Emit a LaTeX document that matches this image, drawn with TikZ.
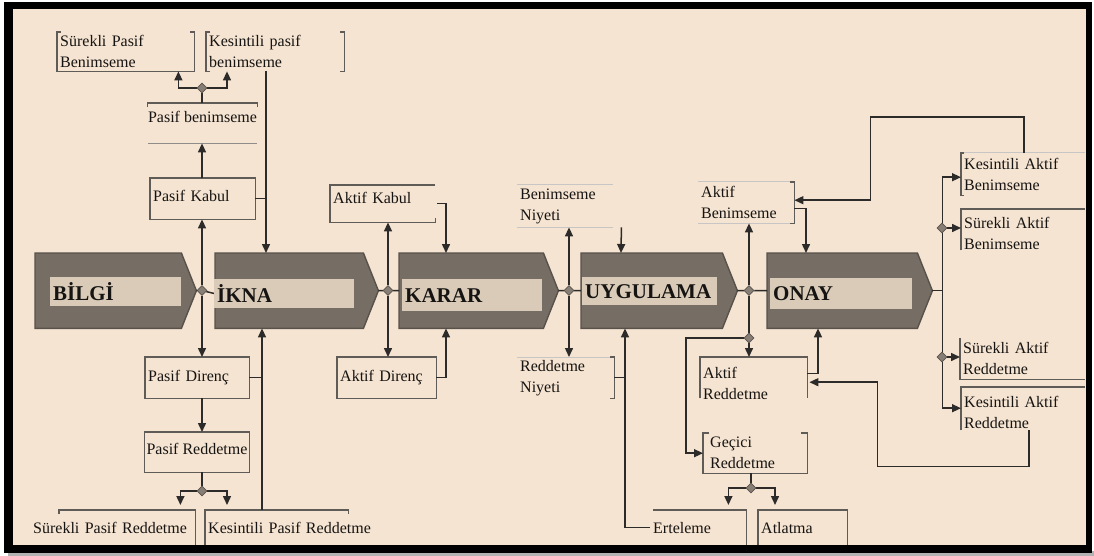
\documentclass[tikz,border=0pt]{standalone}
\usepackage{fontspec}
\setmainfont{Liberation Serif}
\usetikzlibrary{shapes.geometric,arrows.meta,calc}
\pgfdeclarelayer{bg}
\pgfdeclarelayer{mid}
\pgfsetlayers{bg,mid,main}
\definecolor{cream}{RGB}{245,228,210}
\definecolor{chevfill}{RGB}{118,110,101}
\definecolor{chevline}{RGB}{88,82,75}
\definecolor{litefill}{RGB}{217,203,184}
\definecolor{conn}{RGB}{45,43,41}
\definecolor{boxline}{RGB}{95,91,86}
\definecolor{ink}{RGB}{22,20,18}
\definecolor{dia}{RGB}{135,127,118}
\newcommand\keepline[1]{\mbox{#1}}
\tikzset{
  geo/.code n args={4}{\pgfmathsetlengthmacro\bxw{#3-#1}\pgfmathsetlengthmacro\bxh{#4-#2}%
    \edef\bxtmp{\noexpand\tikzset{at={(#1,#2)},anchor=north west,minimum width=\bxw,minimum height=\bxh}}\bxtmp},
  geom/.code n args={4}{\pgfmathsetlengthmacro\bxt{#3-#1-6}\tikzset{geo={#1}{#2}{#3}{#4}}%
    \edef\bxtmp{\noexpand\tikzset{text width=\bxt}}\bxtmp},
  geoc/.code n args={4}{\pgfmathsetlengthmacro\bxw{#3-#1}\pgfmathsetlengthmacro\bxh{#4-#2}\pgfmathsetmacro\bxc{(#1+#3)/2}%
    \edef\bxtmp{\noexpand\tikzset{at={(\bxc,#2)},anchor=north,minimum width=\bxw,minimum height=\bxh}}\bxtmp},
  bx/.style={draw=none, inner xsep=3pt, inner ysep=0pt, align=left, text=ink, font=\fontsize{16}{21}\selectfont},
  bxc/.style={draw=none, inner xsep=0pt, inner ysep=0pt, align=center, text=ink, font=\fontsize{16}{21}\selectfont},
  bline/.style={draw=boxline, line width=1.2pt},
  bfaint/.style={draw=boxline!35, line width=1pt},
  ln/.style={draw=conn, line width=1.5pt},
  arr/.style={ln, -{Triangle[length=9pt,width=8pt]}},
  chev/.style={draw=none, inner sep=0pt},
  chevpath/.style={fill=chevfill, draw=chevline, line width=1.4pt, line join=miter},
  litebox/.style={fill=litefill, inner xsep=3pt, inner ysep=0pt, align=left, text=ink, font=\fontsize{21}{24}\bfseries\selectfont},
  dm/.style={diamond, fill=dia, draw=chevline, line width=0.6pt, inner sep=0pt, minimum width=10pt, minimum height=10pt},
}
\begin{document}
\begin{tikzpicture}[x=1pt,y=-1pt]
\useasboundingbox (0,0) rectangle (1094,556);

% ---- stage chevrons
\node[chev, geo={35}{253}{181}{328}] (bilgi) {};
\node[chev, geo={215}{253}{363}{328}] (ikna) {};
\node[chev, geo={399}{253}{543}{328}] (karar) {};
\node[chev, geo={581}{253}{722}{328}] (uyg) {};
\node[chev, geo={767}{253}{917}{328}] (onay) {};
\foreach \c in {bilgi,ikna,karar,uyg,onay}
  \coordinate (\c tip) at ($(\c.east)+(15,0)$);

\node[litebox, geom={50}{277}{181}{306}] (bilgit) {BİLGİ};
\node[litebox, geom={214}{279}{354}{308}] (iknat) {İKNA};
\node[litebox, geom={402}{279}{542}{311}] (karart) {KARAR};
\node[litebox, geom={582}{277}{717}{305}] (uygt) {UYGULAMA};
\node[litebox, geom={770}{278}{912}{309}] (onayt) {ONAY};

% ---- boxes
\node[bx, geom={57}{32}{194}{71}] (spb) {Sürekli Pasif\\Benimseme};
\node[bx, geom={206}{32}{344}{71}] (kpb) {Kesintili pasif\\benimseme};
\node[bxc, geoc={150}{103}{255}{143}, text depth=12pt] (pben) {Pasif benimseme};
\node[bx, geom={150}{178}{255}{219}, text depth=6pt] (pk) {Pasif Kabul};
\node[bx, geom={145}{357}{249}{398}] (pd) {Pasif Direnç};
\node[bxc, geoc={145}{432}{249}{472}, text depth=7pt] (pr) {Pasif Reddetme};
\node[bx, geom={30}{510}{195}{545}] (spr) {Sürekli Pasif Reddetme};
\node[bx, geom={205}{510}{348}{545}] (kpr) {\keepline{Kesintili Pasif Reddetme}};
\node[bx, geom={330}{185}{435}{222}, text depth=11pt] (ak) {Aktif Kabul};
\node[bx, geom={337}{357}{436}{398}] (ad) {Aktif Direnç};
\node[bx, geom={517}{185}{613}{227}] (bn) {Benimseme\\Niyeti};
\node[bx, geom={517}{357}{614}{398}] (rn) {Reddetme\\Niyeti};
\node[bx, geom={698}{182}{794}{223}] (ab) {Aktif\\Benimseme};
\node[bx, geom={700}{357}{807}{398}, text depth=10pt] (ar) {Aktif\\Reddetme};
\node[bx, geom={703}{433}{807}{473}] (gr) {\hspace*{4pt}Geçici\\\hspace*{4pt}Reddetme};
\node[bx, geom={650}{510}{746}{545}] (er) {Erteleme};
\node[bx, geom={758}{510}{847}{545}] (at) {Atlatma};
\node[bx, geom={961}{153}{1085}{195}] (kab) {Kesintili Aktif\\Benimseme};
\node[bx, geom={961}{209}{1085}{250}, text depth=14pt] (sab) {Sürekli Aktif\\Benimseme};
\node[bx, geom={960}{338}{1085}{379}] (sar) {Sürekli Aktif\\Reddetme};
\node[bx, geom={961}{387}{1085}{430}, text depth=14pt] (kar) {Kesintili Aktif\\Reddetme};

% ---- junction diamonds
\node[dm] (d1) at (202,290.5) {};
\node[dm] (d2) at (388,290.5) {};
\node[dm] (d3) at (569,290.5) {};
\node[dm] (d4) at (749,290.5) {};
\node[dm] (d5) at (749,338) {};
\node[dm] (d6) at (202,88) {};
\node[dm] (d7) at (202,491) {};
\node[dm] (d8) at (751,488) {};
\node[dm] (d9) at (942,228) {};
\node[dm] (d10) at (942,357) {};

\begin{pgfonlayer}{bg}
  \fill[white] (0,0) rectangle (1094,556);
  \fill[black!30] (8,551) rectangle (1094,556);
  \fill[black] (4,2) rectangle (1092,553);
  \fill[cream] (13,9) rectangle (1086,545);
  \foreach \c in {bilgi,ikna,karar,uyg,onay}
    \draw[chevpath] (\c.north west) -- (\c.north east) -- (\c tip) -- (\c.south east) -- (\c.south west) -- cycle;
\end{pgfonlayer}

\begin{pgfonlayer}{mid}
  % box outlines
  \draw[bline] ($(spb.north west)+(4,0)$) -- (spb.north west) -- (spb.south west) -- (spb.south east) -- (spb.north east) -- ++(-4,0);
  \draw[bline] ($(kpb.north west)+(4,0)$) -- (kpb.north west) -- (kpb.south west) -- ++(4,0);
  \draw[bline] ($(kpb.north east)+(-4,0)$) -- (kpb.north east) -- (kpb.south east) -- ++(-4,0);
  \draw[bline] ($(pben.north west)+(0,4)$) -- (pben.north west) -- (pben.north east) -- ++(0,4);
  \draw[bfaint, draw=boxline!70] (pben.south west) -- (pben.south east);
  \draw[bline] (pk.north west) rectangle (pk.south east);
  \draw[bline] (pd.north west) rectangle (pd.south east);
  \draw[bline] (pr.north west) rectangle (pr.south east);
  \draw[bline] ($(spr.north west)+(29,4)$) -- ++(0,-4) -- (spr.north east) -- (spr.south east);
  \draw[bline] (kpr.south west) -- (kpr.north west) -- (kpr.north east) -- ++(0,4);
  \draw[bline] (ak.north east) -- (ak.north west) -- (ak.south west) -- (ak.south east) -- ++(0,-4);
  \draw[bline] (ad.north west) rectangle (ad.south east);
  \draw[bfaint] (bn.north west) -- (bn.north east);
  \draw[bfaint] (bn.south west) -- (bn.south east);
  \draw[bfaint] (rn.north west) -- (rn.north east);
  \draw[bline] ($(rn.north east)+(-4,0)$) -- (rn.north east) -- (rn.south east) -- ++(-4,0);
  \draw[bfaint] (ab.north west) -- (ab.north east);
  \draw[bfaint] (ab.south west) -- (ab.south east);
  \draw[bline] ($(ab.north east)+(-4,0)$) -- (ab.north east) -- (ab.south east) -- ++(-4,0);
  \draw[bline] (ar.south west) -- (ar.north west) -- (ar.north east) -- (ar.south east);
  \draw[bline] ($(gr.north west)+(6,0)$) -- (gr.north west) -- (gr.south west) -- (gr.south east) -- (gr.north east) -- ++(-6,0);
  \draw[bline] ($(er.north west)+(3,0)$) -- (er.north east) -- (er.south east);
  \draw[bline] (at.south west) -- (at.north west) -- (at.north east) -- (at.south east);
  \draw[bline] ($(kab.north west)+(3,0)$) -- (kab.north west) -- (kab.south west) -- ++(3,0);
  \draw[bfaint] ($(kab.north west)+(3,0)$) -- (kab.north east);
  \draw[bline] (sab.south west) -- (sab.north west) -- (sab.north east);
  \draw[bline] (sar.north west) -- (sar.south west) -- (sar.south east);
  \draw[bline] (kar.south west) -- (kar.north west) -- (kar.north east);

  % main flow
  \draw[ln] (bilgitip) -- (d1) -- (iknat.west -| ikna.west);
  \draw[ln] (iknatip) -- (d2) -- (karar.west);
  \draw[ln] (karartip) -- (d3) -- (uyg.west);
  \draw[ln] (uygtip) -- (d4) -- (onay.west);

  % Ikna stage
  \draw[arr] (d1) -- (pk.south -| d1);
  \draw[arr] (d1) -- (pd.north -| d1);
  \draw[arr] (pk.north -| d1) -- (pben.south -| d1);
  \draw[ln] (pben.north -| d6) -- (d6);
  \draw[arr] (d6) -| ($(spb.south east)+(-16,0)$);
  \draw[arr] (d6) -| ($(kpb.south west)+(21,0)$);
  \coordinate (kb) at ($(kpb.south west)+(60,0)$);
  \draw[arr] (kb) -- (kb |- ikna.north);
  \draw[ln] (pk.east) -- (pk.east -| kb);
  \coordinate (kr) at ($(kpr.north west)+(57,0)$);
  \draw[arr] (kr) -- (kr |- ikna.south);
  \draw[ln] (pd.east) -- (pd.east -| kr);
  \draw[arr] (pd.south -| d1) -- (pr.north -| d1);
  \draw[ln] (pr.south -| d7) -- (d7);
  \draw[arr] (d7) -| ($(spr.north east)+(-15,-5)$);
  \draw[arr] (d7) -| ($(kpr.north west)+(22,-5)$);

  % Karar stage
  \draw[arr] (d2) -- (ak.south -| d2);
  \draw[arr] (d2) -- (ad.north -| d2);
  \coordinate (kx) at ($(karar.north west)+(47,0)$);
  \draw[arr] ($(ak.east)+(2,0)$) -| (kx);
  \draw[arr] (ad.east) -| (kx |- karar.south);

  % Uygulama stage
  \draw[arr] (d3) -- (bn.south -| d3);
  \draw[arr] (d3) -- (rn.north -| d3);
  \draw[arr] ($(bn.south east)+(8,0)$) -- ($(uyg.north west)+(40,0)$);
  \coordinate (ux) at ($(uyg.south west)+(44,0)$);
  \draw[arr] (er.west) -| (ux);
  \draw[ln] (rn.east) -- (rn.east -| ux);

  % Onay stage
  \draw[arr] (d4) -- (ab.south -| d4);
  \draw[ln] (d4) -- (d5);
  \draw[arr] (d5) -- (ar.north -| d5);
  \draw[arr] (d5) -- ++(-63,0) |- (gr.west);
  \coordinate (ax) at ($(onay.north west)+(39,0)$);
  \draw[arr] ($(ab.east)+(0,6)$) -| (ax);
  \draw[arr] ($(kab.north west)+(63,0)$) -- ++(0,-36) -| ($(ab.east)+(76,-2.5)$) -- ($(ab.east)+(0,-2.5)$);
  \coordinate (ox) at ($(onay.south west)+(51,0)$);
  \draw[arr] ($(ar.east)+(0,-4)$) -| (ox);
  \draw[arr] ($(kar.south west)+(68,0)$) -- ++(0,36) -| ($(ar.east)+(70,4.5)$) -- ($(ar.east)+(2,4.5)$);
  \draw[ln] (gr.south -| d8) -- (d8);
  \draw[arr] (d8) -| ($(er.north east)+(-18,-5)$);
  \draw[arr] (d8) -| ($(at.north west)+(17,-5)$);

  % outcomes
  \coordinate (rx) at ($(onaytip)+(10,0)$);
  \draw[ln] (onaytip) -- (rx);
  \draw[arr] (rx) |- ($(kab.west)+(0,3)$);
  \draw[arr] (rx) |- ($(kar.west)+(0,-0.5)$);
  \draw[arr] (d9) -- (sab.west |- d9);
  \draw[arr] (d10) -- (sar.west |- d10);
\end{pgfonlayer}
\end{tikzpicture}
\end{document}
